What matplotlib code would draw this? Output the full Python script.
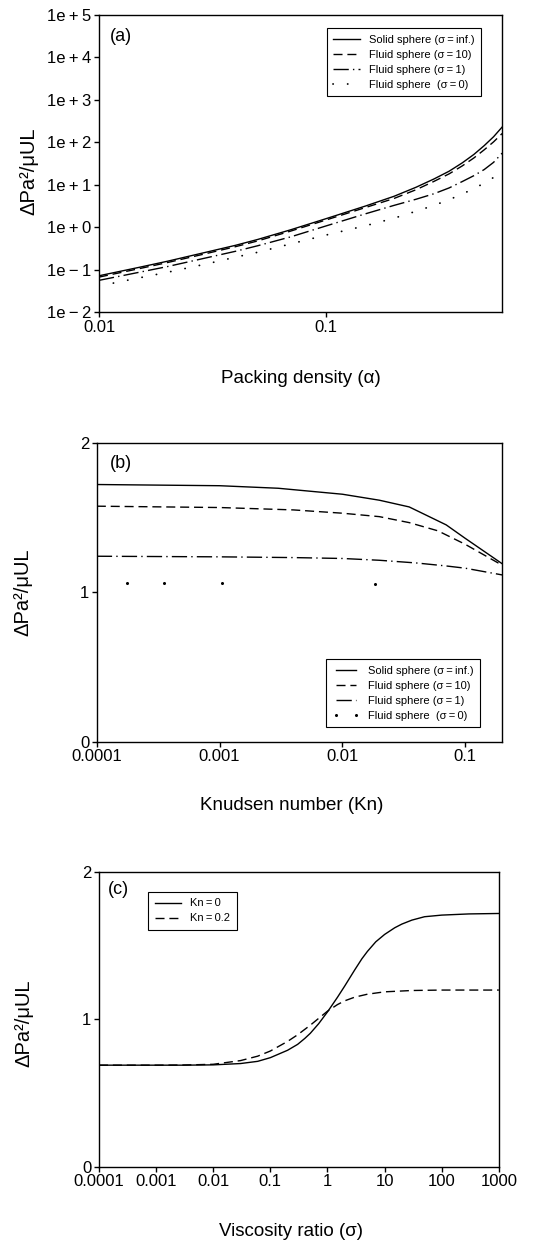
import matplotlib
matplotlib.use('Agg')
import matplotlib.pyplot as plt
from matplotlib.ticker import FixedLocator, FixedFormatter, NullLocator

plt.rcParams['font.family'] = ['Liberation Sans', 'DejaVu Sans']

# ---- panel (a): pressure drop vs packing density ----
alpha = [0.01, 0.015, 0.02, 0.03, 0.04, 0.05, 0.07, 0.1, 0.15, 0.2, 0.25,
         0.3, 0.35, 0.4, 0.45, 0.5, 0.55, 0.6]
a_solid = [0.073, 0.115, 0.16, 0.265, 0.38, 0.52, 0.88, 1.6, 3.2, 5.4, 8.8,
           13.8, 21, 33, 52, 84, 136, 230]
a_sig10 = [0.068, 0.107, 0.149, 0.246, 0.353, 0.48, 0.82, 1.49, 2.95, 4.8, 7.7,
           12.1, 18.2, 28, 43, 67, 103, 162]
a_sig1 = [0.057, 0.088, 0.12, 0.195, 0.275, 0.37, 0.6, 1.08, 2.1, 3.3, 4.6,
          6.2, 8.5, 12, 16.5, 23, 34, 56]
a_sig0 = [0.042, 0.065, 0.088, 0.14, 0.2, 0.26, 0.41, 0.66, 1.1, 1.65, 2.4,
          3.3, 4.5, 6.1, 8.2, 11, 15, 20]
a_xticks = [0.01, 0.1]
a_xlabels = ['0.01', '0.1']
a_yticks = [1e-2, 1e-1, 1e0, 1e1, 1e2, 1e3, 1e4, 1e5]
a_ylabels = ['1e\u2009\u2212\u20092', '1e\u2009\u2212\u20091', '1e\u2009+\u20090',
             '1e\u2009+\u20091', '1e\u2009+\u20092', '1e\u2009+\u20093',
             '1e\u2009+\u20094', '1e\u2009+\u20095']

# ---- panel (b): pressure drop vs Knudsen number ----
kn_solid = [1e-4, 1e-3, 3e-3, 0.01, 0.02, 0.035, 0.07, 0.1, 0.2]
b_solid = [1.72, 1.712, 1.695, 1.655, 1.615, 1.57, 1.45, 1.36, 1.19]
kn_sig10 = [1e-4, 1e-3, 4e-3, 0.01, 0.02, 0.035, 0.06, 0.1, 0.2]
b_sig10 = [1.575, 1.566, 1.55, 1.528, 1.505, 1.465, 1.41, 1.32, 1.18]
kn_sig1 = [1e-4, 1e-3, 4e-3, 0.01, 0.02, 0.04, 0.07, 0.1, 0.2]
b_sig1 = [1.24, 1.236, 1.231, 1.225, 1.213, 1.195, 1.175, 1.16, 1.115]
kn_sig0 = [1.75e-4, 3.5e-4, 1.04e-3, 1.85e-2]
b_sig0 = [1.062, 1.06, 1.06, 1.056]
b_xticks = [1e-4, 1e-3, 1e-2, 1e-1]
b_xlabels = ['0.0001', '0.001', '0.01', '0.1']

# ---- panel (c): pressure drop vs viscosity ratio ----
sig_kn0 = [1e-4, 1e-3, 3e-3, 1e-2, 0.03, 0.06, 0.1, 0.2, 0.3, 0.4, 0.5, 0.7,
           1, 1.5, 2, 3, 4, 5, 7, 10, 15, 20, 30, 50, 100, 300, 1000]
c_kn0 = [0.689, 0.689, 0.689, 0.691, 0.70, 0.715, 0.74, 0.79, 0.83, 0.87,
         0.905, 0.97, 1.05, 1.15, 1.225, 1.335, 1.41, 1.46, 1.525, 1.575, 1.62,
         1.645, 1.672, 1.695, 1.706, 1.714, 1.717]
sig_kn02 = [1e-4, 1e-3, 3e-3, 1e-2, 0.03, 0.06, 0.1, 0.2, 0.3, 0.5, 1, 1.5, 2,
            3, 5, 10, 30, 100, 1000]
c_kn02 = [0.689, 0.689, 0.69, 0.695, 0.72, 0.75, 0.785, 0.85, 0.895, 0.96,
          1.055, 1.1, 1.125, 1.15, 1.17, 1.186, 1.195, 1.198, 1.198]
c_xticks = [1e-4, 1e-3, 1e-2, 1e-1, 1, 10, 100, 1000]
c_xlabels = ['0.0001', '0.001', '0.01', '0.1', '1', '10', '100', '1000']
lin_yticks = [0, 1, 2]
lin_ylabels = ['0', '1', '2']

ylab = '\u0394Pa\u00b2/\u03bcUL'
TICK_FS = 12
LAB_FS = 13.5
YLAB_FS = 14.5
LEG_FS = 8

fig = plt.figure(figsize=(5.47, 12.4), dpi=100)
ax1 = fig.add_axes([0.181, 0.748, 0.737, 0.240])
ax2 = fig.add_axes([0.177, 0.402, 0.741, 0.241])
ax3 = fig.add_axes([0.181, 0.059, 0.731, 0.238])

solid_kw = dict(color='black', lw=1.0, linestyle='-')
dash_kw = dict(color='black', lw=1.0, dashes=(6.5, 3.5))
dashdot_kw = dict(color='black', lw=1.0, dashes=(11, 3, 1, 3))
dot_kw = dict(color='black', lw=1.3, dashes=(0.1, 8), dash_capstyle='round')

lab_solid = 'Solid sphere (\u03c3\u2009=\u2009inf.)'
lab_10 = 'Fluid sphere (\u03c3\u2009=\u200910)'
lab_1 = 'Fluid sphere (\u03c3\u2009=\u20091)'
lab_0 = 'Fluid sphere  (\u03c3\u2009=\u20090)'

leg_kw = dict(fontsize=LEG_FS, frameon=True, fancybox=False, framealpha=1,
              edgecolor='black', borderaxespad=0, handlelength=2.4,
              handletextpad=0.8, labelspacing=0.45, borderpad=0.6)

# (a)
ax1.plot(alpha, a_solid, label=lab_solid, **solid_kw)
ax1.plot(alpha, a_sig10, label=lab_10, **dash_kw)
ax1.plot(alpha, a_sig1, label=lab_1, **dashdot_kw)
ax1.plot(alpha, a_sig0, label=lab_0, **dot_kw)
ax1.set_xscale('log')
ax1.set_yscale('log')
ax1.set_xlim(0.01, 0.6)
ax1.set_ylim(1e-2, 1e5)
ax1.xaxis.set_major_locator(FixedLocator(a_xticks))
ax1.xaxis.set_major_formatter(FixedFormatter(a_xlabels))
ax1.yaxis.set_major_locator(FixedLocator(a_yticks))
ax1.yaxis.set_major_formatter(FixedFormatter(a_ylabels))
ax1.set_xlabel('Packing density (\u03b1)', fontsize=LAB_FS)
ax1.xaxis.set_label_coords(0.5, -0.193)
ax1.set_ylabel(ylab, fontsize=YLAB_FS)
ax1.yaxis.set_label_coords(-0.151, 0.473)
ax1.text(0.027, 0.956, '(a)', transform=ax1.transAxes, fontsize=13, va='top')
leg = ax1.legend(loc='upper right', bbox_to_anchor=(0.948, 0.956), **leg_kw)
leg.get_frame().set_linewidth(0.8)

# (b)
ax2.plot(kn_solid, b_solid, label=lab_solid, **solid_kw)
ax2.plot(kn_sig10, b_sig10, label=lab_10, **dash_kw)
ax2.plot(kn_sig1, b_sig1, label=lab_1, **dashdot_kw)
ax2.plot(kn_sig0, b_sig0, label=lab_0, color='black', linestyle='none',
         marker='o', markersize=1.2)
ax2.set_xscale('log')
ax2.set_xlim(1e-4, 0.2)
ax2.set_ylim(0, 2)
ax2.xaxis.set_major_locator(FixedLocator(b_xticks))
ax2.xaxis.set_major_formatter(FixedFormatter(b_xlabels))
ax2.yaxis.set_major_locator(FixedLocator(lin_yticks))
ax2.yaxis.set_major_formatter(FixedFormatter(lin_ylabels))
ax2.set_xlabel('Knudsen number (Kn)', fontsize=LAB_FS)
ax2.xaxis.set_label_coords(0.48, -0.185)
ax2.set_ylabel(ylab, fontsize=YLAB_FS)
ax2.yaxis.set_label_coords(-0.158, 0.5)
ax2.text(0.032, 0.96, '(b)', transform=ax2.transAxes, fontsize=13, va='top')
leg = ax2.legend(loc='lower right', bbox_to_anchor=(0.946, 0.047),
                 numpoints=2, **leg_kw)
leg.get_frame().set_linewidth(0.8)

# (c)
ax3.plot(sig_kn0, c_kn0, label='Kn\u2009=\u20090', **solid_kw)
ax3.plot(sig_kn02, c_kn02, label='Kn\u2009=\u20090.2', **dash_kw)
ax3.set_xscale('log')
ax3.set_xlim(1e-4, 1000)
ax3.set_ylim(0, 2)
ax3.xaxis.set_major_locator(FixedLocator(c_xticks))
ax3.xaxis.set_major_formatter(FixedFormatter(c_xlabels))
ax3.yaxis.set_major_locator(FixedLocator(lin_yticks))
ax3.yaxis.set_major_formatter(FixedFormatter(lin_ylabels))
ax3.set_xlabel('Viscosity ratio (\u03c3)', fontsize=LAB_FS)
ax3.xaxis.set_label_coords(0.479, -0.19)
ax3.set_ylabel(ylab, fontsize=YLAB_FS)
ax3.yaxis.set_label_coords(-0.165, 0.485)
ax3.text(0.0225, 0.967, '(c)', transform=ax3.transAxes, fontsize=13, va='top')
leg = ax3.legend(loc='upper left', bbox_to_anchor=(0.1225, 0.932), **leg_kw)
leg.get_frame().set_linewidth(0.8)

for ax in (ax1, ax2, ax3):
    ax.xaxis.set_minor_locator(NullLocator())
    ax.yaxis.set_minor_locator(NullLocator())
    ax.tick_params(which='major', direction='out', length=3.5, width=1.0,
                   pad=2, labelsize=TICK_FS, top=False, right=False)
    for sp in ax.spines.values():
        sp.set_linewidth(1.0)

fig.savefig('out.png', dpi=100)
